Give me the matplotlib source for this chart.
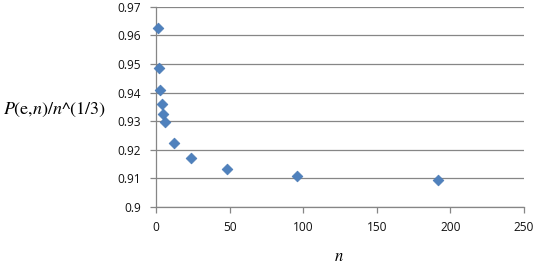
import matplotlib
matplotlib.use("Agg")
import matplotlib.pyplot as plt
from matplotlib.ticker import FuncFormatter

n_values = [1, 2, 3, 4, 5, 6, 12, 24, 48, 96, 192]
ratio = [0.9625, 0.9485, 0.9408, 0.9359, 0.9324, 0.9297, 0.9223, 0.9170, 0.9133, 0.9110, 0.9095]
x_ticks = [0, 50, 100, 150, 200, 250]
y_ticks = [0.90, 0.91, 0.92, 0.93, 0.94, 0.95, 0.96, 0.97]

plt.rcParams['mathtext.fontset'] = 'stix'
plt.rcParams['font.family'] = ['Open Sans', 'DejaVu Sans']

fig = plt.figure(figsize=(5.4, 2.68), dpi=100)
ax = fig.add_axes([0.289, 0.2276, 0.681, 0.7474])

grid_color = '#868686'
ax.set_xlim(0, 250)
ax.set_ylim(0.9, 0.97)
ax.set_xticks(x_ticks)
ax.set_yticks(y_ticks)
ax.yaxis.set_major_formatter(FuncFormatter(lambda v, p: f"{v:.2f}".rstrip('0')))
ax.grid(axis='y', color=grid_color, linewidth=0.9)
ax.set_axisbelow(True)
for s in ['top', 'right']:
    ax.spines[s].set_visible(False)
for s in ['left', 'bottom']:
    ax.spines[s].set_color(grid_color)
    ax.spines[s].set_linewidth(0.9)
ax.tick_params(axis='both', direction='out', length=4, color=grid_color, width=0.9,
               labelsize=8.6, labelcolor='#111111')
ax.tick_params(axis='y', pad=7)
ax.tick_params(axis='x', pad=6)

ax.scatter(n_values, ratio, marker='D', s=30, color='#4F81BD', edgecolors='#4A7AB5',
           linewidths=0.5, zorder=3, clip_on=False)

fig.text(0.006, 0.59, r"$P(\mathrm{e}{,}n)/n$^(1/3)", fontsize=13, va='center', ha='left',
         family='STIXGeneral')
fig.text(0.628, 0.04, r"$n$", fontsize=12, va='center', ha='center')

fig.savefig("out.png", dpi=100)
